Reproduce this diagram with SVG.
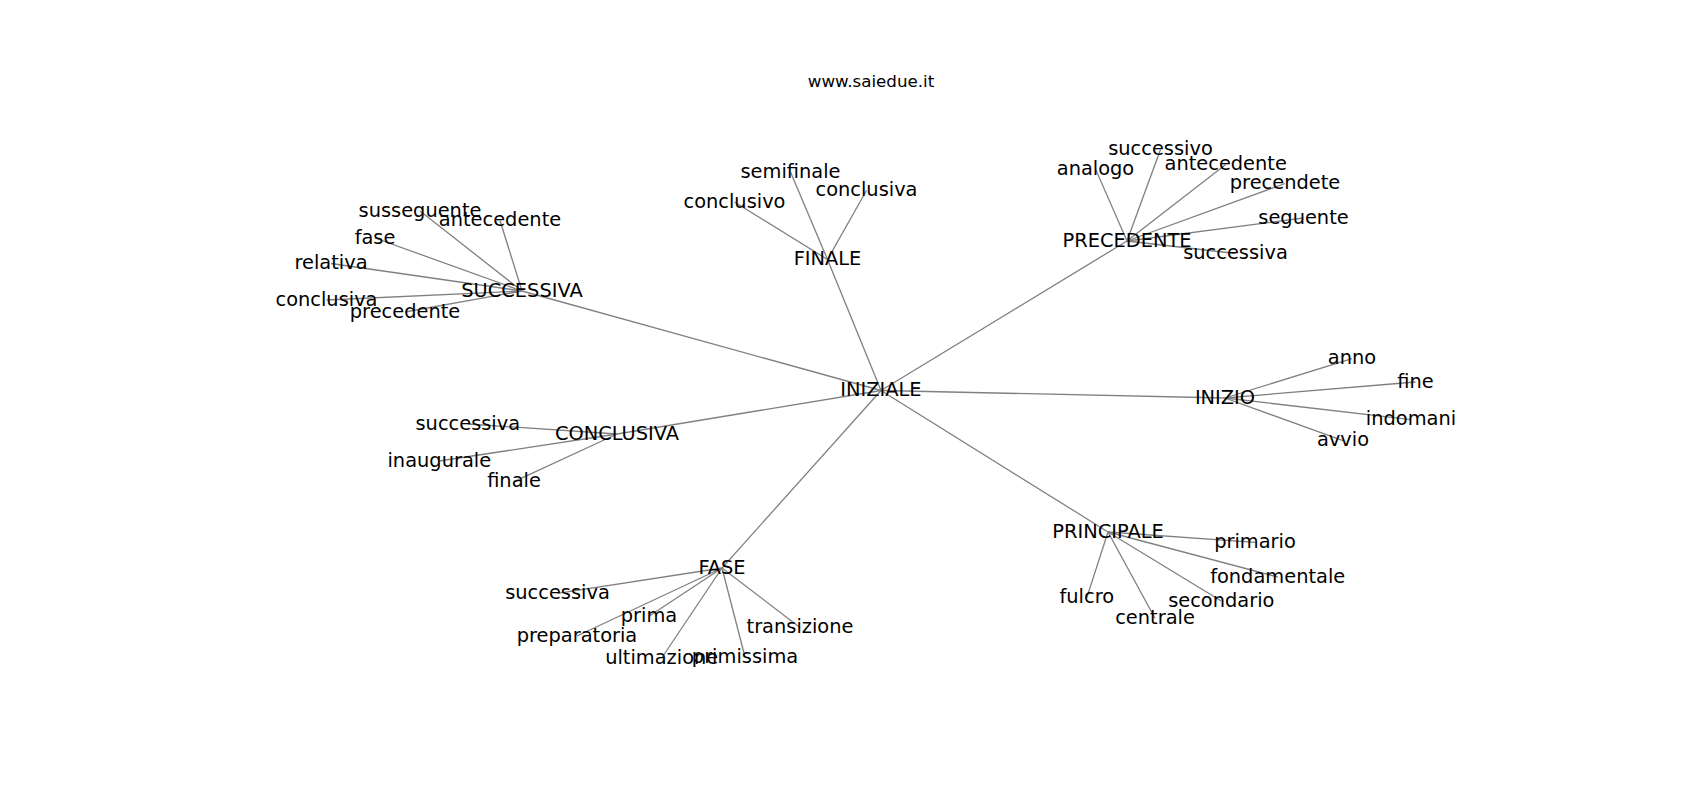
<svg xmlns="http://www.w3.org/2000/svg" width="1700" height="800" viewBox="0 0 1700 800">
<style>
text{font-family:"DejaVu Sans",sans-serif;font-size:19.4px;fill:#000;text-anchor:middle}
.title{font-size:16.7px}
#edges line{stroke:#808080;stroke-width:1.3}
</style>
<rect width="1700" height="800" fill="#fff"/>
<text class="title" x="871" y="87">www.saiedue.it</text>
<g id="edges">
<line x1="881" y1="390.5" x2="522" y2="291"/>
<line x1="881" y1="390.5" x2="827.5" y2="259.5"/>
<line x1="881" y1="390.5" x2="1127" y2="241"/>
<line x1="881" y1="390.5" x2="1225" y2="398"/>
<line x1="881" y1="390.5" x2="1108" y2="532"/>
<line x1="881" y1="390.5" x2="722" y2="568"/>
<line x1="881" y1="390.5" x2="617" y2="434"/>
<line x1="522" y1="291" x2="420" y2="211"/>
<line x1="522" y1="291" x2="500" y2="220.5"/>
<line x1="522" y1="291" x2="375" y2="238"/>
<line x1="522" y1="291" x2="331" y2="263.5"/>
<line x1="522" y1="291" x2="326.5" y2="300"/>
<line x1="522" y1="291" x2="405" y2="312"/>
<line x1="827.5" y1="259.5" x2="790.5" y2="172"/>
<line x1="827.5" y1="259.5" x2="734.5" y2="202"/>
<line x1="827.5" y1="259.5" x2="866.5" y2="190.5"/>
<line x1="1127" y1="241" x2="1160.5" y2="149.5"/>
<line x1="1127" y1="241" x2="1095.5" y2="169"/>
<line x1="1127" y1="241" x2="1225.7" y2="164.5"/>
<line x1="1127" y1="241" x2="1285" y2="183.5"/>
<line x1="1127" y1="241" x2="1303.5" y2="218"/>
<line x1="1127" y1="241" x2="1235.5" y2="253.5"/>
<line x1="1225" y1="398" x2="1352" y2="358.6"/>
<line x1="1225" y1="398" x2="1415.5" y2="382"/>
<line x1="1225" y1="398" x2="1411" y2="419.6"/>
<line x1="1225" y1="398" x2="1343" y2="440.6"/>
<line x1="1108" y1="532" x2="1255" y2="542.3"/>
<line x1="1108" y1="532" x2="1277.7" y2="577"/>
<line x1="1108" y1="532" x2="1221.3" y2="601"/>
<line x1="1108" y1="532" x2="1155" y2="618.2"/>
<line x1="1108" y1="532" x2="1086.8" y2="597.6"/>
<line x1="722" y1="568" x2="557.5" y2="593.3"/>
<line x1="722" y1="568" x2="649" y2="616.3"/>
<line x1="722" y1="568" x2="577" y2="636"/>
<line x1="722" y1="568" x2="661.7" y2="658"/>
<line x1="722" y1="568" x2="745" y2="657"/>
<line x1="722" y1="568" x2="800" y2="627.5"/>
<line x1="617" y1="434" x2="467.8" y2="424"/>
<line x1="617" y1="434" x2="439.3" y2="461"/>
<line x1="617" y1="434" x2="514" y2="481.6"/>
</g>
<g id="n-iniziale"><text x="881" y="396">INIZIALE</text></g>
<g id="n-successiva"><text x="522" y="296.5">SUCCESSIVA</text></g>
<g id="n-finale"><text x="827.5" y="265">FINALE</text></g>
<g id="n-precedente"><text x="1127" y="246.5">PRECEDENTE</text></g>
<g id="n-inizio"><text x="1225" y="403.5">INIZIO</text></g>
<g id="n-principale"><text x="1108" y="537.5">PRINCIPALE</text></g>
<g id="n-fase"><text x="722" y="573.5">FASE</text></g>
<g id="n-conclusiva"><text x="617" y="439.5">CONCLUSIVA</text></g>
<g id="n-susseguente"><text x="420" y="216.5">susseguente</text></g>
<g id="n-antecedente1"><text x="500" y="226">antecedente</text></g>
<g id="n-fase1"><text x="375" y="243.5">fase</text></g>
<g id="n-relativa"><text x="331" y="269">relativa</text></g>
<g id="n-conclusiva1"><text x="326.5" y="305.5">conclusiva</text></g>
<g id="n-precedente1"><text x="405" y="317.5">precedente</text></g>
<g id="n-semifinale"><text x="790.5" y="177.5">semifinale</text></g>
<g id="n-conclusivo"><text x="734.5" y="207.5">conclusivo</text></g>
<g id="n-conclusiva2"><text x="866.5" y="196">conclusiva</text></g>
<g id="n-successivo"><text x="1160.5" y="155">successivo</text></g>
<g id="n-analogo"><text x="1095.5" y="174.5">analogo</text></g>
<g id="n-antecedente2"><text x="1225.7" y="170">antecedente</text></g>
<g id="n-precendete"><text x="1285" y="189">precendete</text></g>
<g id="n-seguente"><text x="1303.5" y="223.5">seguente</text></g>
<g id="n-successiva1"><text x="1235.5" y="259">successiva</text></g>
<g id="n-anno"><text x="1352" y="364">anno</text></g>
<g id="n-fine"><text x="1415.5" y="387.5">fine</text></g>
<g id="n-indomani"><text x="1411" y="425">indomani</text></g>
<g id="n-avvio"><text x="1343" y="446">avvio</text></g>
<g id="n-primario"><text x="1255" y="547.8">primario</text></g>
<g id="n-fondamentale"><text x="1277.7" y="582.5">fondamentale</text></g>
<g id="n-secondario"><text x="1221.3" y="606.5">secondario</text></g>
<g id="n-centrale"><text x="1155" y="623.7">centrale</text></g>
<g id="n-fulcro"><text x="1086.8" y="603">fulcro</text></g>
<g id="n-successiva2"><text x="557.5" y="598.8">successiva</text></g>
<g id="n-prima"><text x="649" y="621.8">prima</text></g>
<g id="n-preparatoria"><text x="577" y="641.5">preparatoria</text></g>
<g id="n-ultimazione"><text x="661.7" y="663.5">ultimazione</text></g>
<g id="n-primissima"><text x="745" y="662.5">primissima</text></g>
<g id="n-transizione"><text x="800" y="633">transizione</text></g>
<g id="n-successiva3"><text x="467.8" y="429.5">successiva</text></g>
<g id="n-inaugurale"><text x="439.3" y="466.5">inaugurale</text></g>
<g id="n-finale1"><text x="514" y="487">finale</text></g>
</svg>
